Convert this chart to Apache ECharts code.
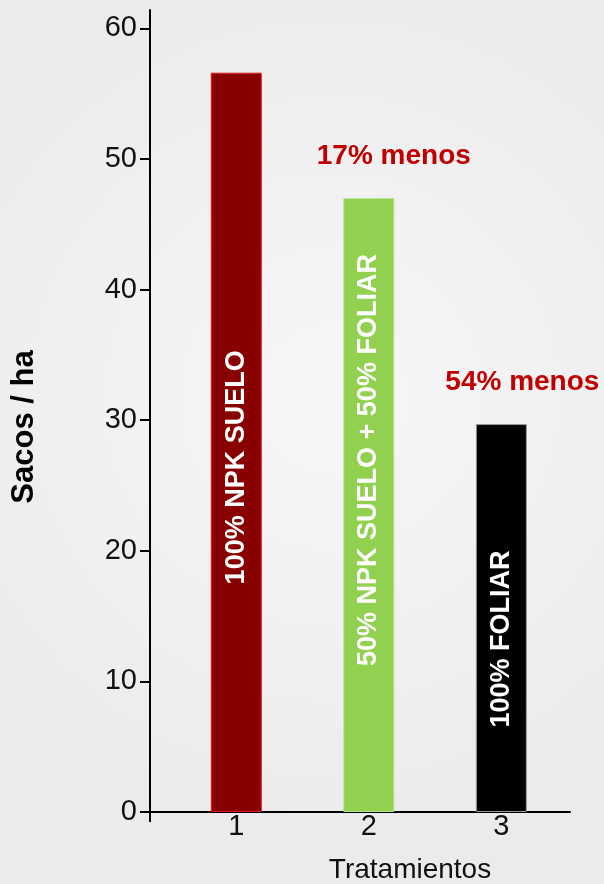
<!DOCTYPE html>
<html>
<head>
<meta charset="utf-8">
<script src="https://cdn.jsdelivr.net/npm/echarts@6/dist/echarts.min.js"></script>
<style>
html,body{margin:0;padding:0;background:#f0f0f2;}
#c{width:604px;height:884px;}
</style>
</head>
<body>
<div id="c"></div>
<script>
// ---- data ----
const categories = [1, 2, 3];
const values = [56.6, 47.0, 29.7];
const barLabels = ['100% NPK SUELO', '50% NPK SUELO + 50% FOLIAR', '100% FOLIAR'];
const annotations = ['', '17% menos', '54% menos'];
const yTicks = [0, 10, 20, 30, 40, 50, 60];
const xTitle = 'Tratamientos';
const yTitle = 'Sacos / ha';

// ---- styles ----
const barColors = ['#880000', '#92d050', '#000000'];
const barBorders = ['#e01818', '#b6e690', '#9a9a9a'];
const innerLabelShift = [-25, 45, -21];
const annShiftX = [0, 25, 21];
const FONT = '"Liberation Sans", Arial, sans-serif';
const xMin = 0.349, xMax = 3.518;

const chart = echarts.init(document.getElementById('c'), null, {renderer: 'canvas'});

const mainData = values.map((v, i) => ({
  value: [categories[i], v],
  itemStyle: {color: barColors[i], borderColor: barBorders[i], borderWidth: 1},
  label: {offset: [innerLabelShift[i], 0]}
}));
const annData = values.map((v, i) => ({
  value: [categories[i], v],
  label: {offset: [annShiftX[i], -23]}
}));

chart.setOption({
  backgroundColor: {
    type: 'radial', x: 0.55, y: 0.45, r: 0.75,
    colorStops: [{offset: 0, color: '#f7f7f9'}, {offset: 1, color: '#ebebec'}]
  },
  animation: false,
  grid: {left: 150, right: 34, top: 10, bottom: 72, containLabel: false},
  xAxis: {
    type: 'value', min: xMin, max: xMax,
    splitLine: {show: false},
    axisLine: {show: true, lineStyle: {color: '#000', width: 2}},
    axisTick: {show: true, customValues: [xMin], length: 10, lineStyle: {color: '#000', width: 2}},
    axisLabel: {customValues: categories, color: '#111', fontSize: 29, fontFamily: FONT, margin: 0}
  },
  yAxis: {
    type: 'value', min: 0, max: 61.4,
    splitLine: {show: false},
    axisLine: {show: true, lineStyle: {color: '#000', width: 2}},
    axisTick: {show: true, customValues: yTicks, length: 10, lineStyle: {color: '#000', width: 2}},
    axisLabel: {customValues: yTicks, color: '#111', fontSize: 29, fontFamily: FONT, margin: 13}
  },
  series: [
    {
      type: 'bar', barWidth: 51, data: mainData, z: 2,
      label: {
        show: true, position: 'inside', rotate: 90,
        color: '#fff', fontWeight: 'bold', fontSize: 27, fontFamily: FONT,
        formatter: p => barLabels[p.dataIndex]
      }
    },
    {
      type: 'bar', barWidth: 51, barGap: '-100%', data: annData, z: 3,
      itemStyle: {color: 'rgba(0,0,0,0)'},
      label: {
        show: true, position: 'top', distance: 5,
        color: '#c00000', fontWeight: 'bold', fontSize: 28, fontFamily: FONT,
        formatter: p => annotations[p.dataIndex]
      }
    }
  ],
  graphic: [
    {
      type: 'text', x: 24, y: 427, rotation: Math.PI / 2,
      style: {text: yTitle, font: 'bold 31px ' + FONT, fill: '#000', align: 'center', verticalAlign: 'middle'}
    },
    {
      type: 'text', x: 410, y: 870,
      style: {text: xTitle, font: '28px ' + FONT, fill: '#111', align: 'center', verticalAlign: 'middle'}
    }
  ]
});
</script>
</body>
</html>
